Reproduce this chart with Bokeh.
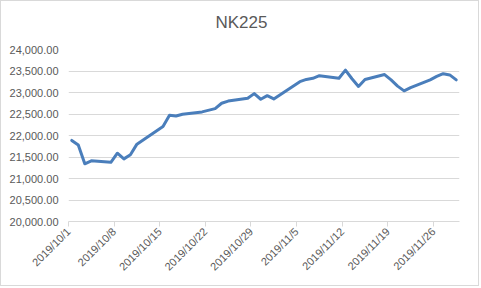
import datetime as dt
from math import pi
from bokeh.plotting import figure
from bokeh.models import Range1d, FixedTicker, NumeralTickFormatter, ColumnDataSource, Title
from bokeh.transform import dodge
from bokeh.embed import file_html
from bokeh.resources import INLINE

dates = ["2019/10/1", "2019/10/2", "2019/10/3", "2019/10/4", "2019/10/7", "2019/10/8",
         "2019/10/9", "2019/10/10", "2019/10/11", "2019/10/15", "2019/10/16", "2019/10/17",
         "2019/10/18", "2019/10/21", "2019/10/23", "2019/10/24", "2019/10/25", "2019/10/28",
         "2019/10/29", "2019/10/30", "2019/10/31", "2019/11/1", "2019/11/5", "2019/11/6",
         "2019/11/7", "2019/11/8", "2019/11/11", "2019/11/12", "2019/11/13", "2019/11/14",
         "2019/11/15", "2019/11/18", "2019/11/19", "2019/11/20", "2019/11/21", "2019/11/22",
         "2019/11/25", "2019/11/26", "2019/11/27", "2019/11/28", "2019/11/29"]
nk225 = [21885.24, 21778.61, 21341.74, 21410.20, 21375.25, 21587.78,
         21456.38, 21551.98, 21798.87, 22207.21, 22472.92, 22451.86,
         22492.68, 22548.90, 22625.38, 22750.60, 22799.81, 22867.27,
         22974.13, 22843.12, 22927.04, 22850.77, 23251.99, 23303.82,
         23330.32, 23391.87, 23331.84, 23520.01, 23319.87, 23141.55,
         23303.32, 23416.76, 23292.65, 23148.57, 23038.58, 23112.88,
         23292.81, 23373.32, 23437.77, 23409.14, 23293.91]
tick_labels = ["2019/10/1", "2019/10/8", "2019/10/15", "2019/10/22", "2019/10/29",
               "2019/11/5", "2019/11/12", "2019/11/19", "2019/11/26"]
axis_start = "2019/10/1"
axis_end = "2019/11/30"
title_text = "NK225"

def parse(s):
    return dt.datetime.strptime(s, "%Y/%m/%d")

base = parse(axis_start)
def day(s):
    return (parse(s) - base).days

src = ColumnDataSource(dict(day=[day(d) for d in dates], v=nk225))

FONT = "Liberation Sans"
GREY = "#595959"
LINE = "#d9d9d9"

p = figure(width=479, height=286, output_backend="svg", toolbar_location=None,
           x_range=Range1d(day(axis_start), day(axis_end)),
           y_range=Range1d(20000, 24000), title_location=None,
           min_border_left=67, min_border_right=21, min_border_top=48, min_border_bottom=66)
p.styles = {"border": "1px solid #d9d9d9"}
p.outline_line_color = None
p.background_fill_color = "white"
p.border_fill_color = "white"

spacer = Title(text=" ", text_font_size="10px", standoff=0)
p.add_layout(spacer, "above")
p.add_layout(Title(text=title_text, align="left", offset=147, text_font=FONT,
                   text_font_size="17px", text_font_style="normal", text_color=GREY), "above")

p.line(x=dodge("day", 0.5, range=p.x_range), y="v", source=src,
       line_color="#4a7ebb", line_width=3, line_join="round", line_cap="round")

tick_pos = [day(t) for t in tick_labels]
p.xaxis.ticker = FixedTicker(ticks=tick_pos)
p.xaxis.major_label_overrides = {tp: t for tp, t in zip(tick_pos, tick_labels)}
p.xaxis.major_label_orientation = pi / 4
p.xaxis.axis_line_color = LINE
p.xaxis.major_tick_line_color = LINE
p.xaxis.major_tick_out = 5
p.xaxis.major_tick_in = 0
p.xaxis.minor_tick_line_color = None
p.xaxis.major_label_text_font = FONT
p.xaxis.major_label_text_font_size = "11px"
p.xaxis.major_label_text_color = GREY
p.xaxis.major_label_standoff = 3

p.yaxis.ticker = FixedTicker(ticks=list(range(20000, 24001, 500)))
p.yaxis.formatter = NumeralTickFormatter(format="0,0.00")
p.yaxis.axis_line_color = None
p.yaxis.major_tick_line_color = None
p.yaxis.major_tick_out = 0
p.yaxis.major_tick_in = 0
p.yaxis.minor_tick_line_color = None
p.yaxis.major_label_text_font = FONT
p.yaxis.major_label_text_font_size = "11px"
p.yaxis.major_label_text_color = GREY
p.yaxis.major_label_standoff = 10

p.xgrid.grid_line_color = None
p.ygrid.grid_line_color = LINE
p.ygrid.grid_line_width = 1

open("out.html", "w").write(file_html(p, INLINE))
